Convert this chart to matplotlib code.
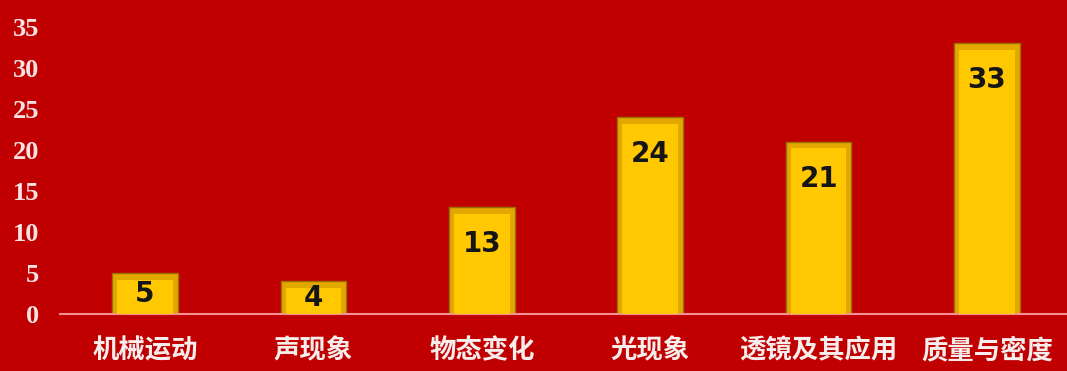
import matplotlib
matplotlib.use("Agg")
import matplotlib.pyplot as plt

# data
categories = ['机械运动', '声现象', '物态变化', '光现象', '透镜及其应用', '质量与密度']
values = [5, 4, 13, 24, 21, 33]
yticks = [0, 5, 10, 15, 20, 25, 30, 35]

bg = '#C00000'
fig = plt.figure(figsize=(10.67, 3.71), dpi=100)
fig.patch.set_facecolor(bg)
ax = fig.add_axes([60/1067, 57/371, 1007/1067, 314/371])
ax.set_facecolor(bg)

x = list(range(len(categories)))
# outer bevel, then lighter face
ax.bar(x, values, width=0.39, color='#E2A800', edgecolor='#9A7000', linewidth=1, zorder=2)
ax.bar(x, [v - 0.8 for v in values], width=0.33, color='#FFC800', linewidth=0, zorder=3)

for i, v in enumerate(values):
    ly = v / 2 if v < 10 else v - 4.5
    ax.text(i, ly, str(v), ha='center', va='center', fontsize=20,
            fontweight='bold', color='#151515', zorder=4)

ax.set_xlim(-0.505, 5.475)
ax.set_ylim(0, 38.3)
ax.set_yticks(yticks)
ax.set_yticklabels([str(t) for t in yticks], fontfamily='Liberation Serif',
                   fontweight='bold', fontsize=19, color='#F6E2E2')
ax.tick_params(axis='y', length=0, pad=15)
ax.set_xticks(x)
ax.set_xticklabels(categories, fontfamily=['Noto Sans CJK SC', 'DejaVu Sans'],
                   fontweight='bold', fontsize=19, color='#F8EDED')
ax.tick_params(axis='x', length=0, pad=17)

for s in ['top', 'right', 'left']:
    ax.spines[s].set_visible(False)
ax.spines['bottom'].set_color('#F59090')
ax.spines['bottom'].set_linewidth(1.5)

fig.savefig('out.png', dpi=100, facecolor=bg)
